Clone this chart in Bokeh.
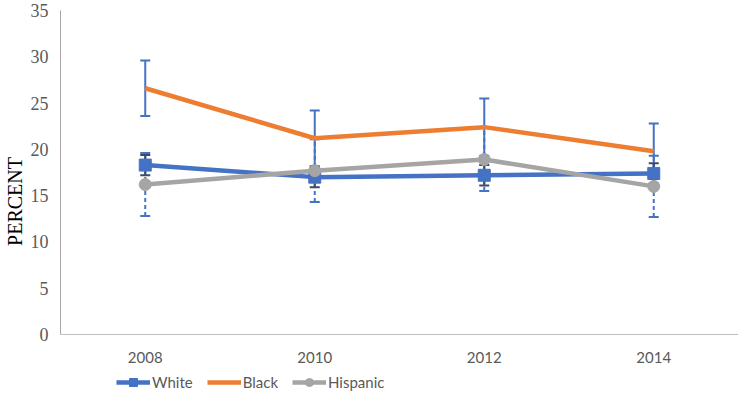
from bokeh.plotting import figure
from bokeh.models import (ColumnDataSource, FactorRange, FixedTicker, Whisker, TeeHead,
                          Legend, LegendItem, Range1d)
from bokeh.embed import file_html
from bokeh.resources import INLINE

years = ["2008", "2010", "2012", "2014"]
white = [18.3, 17.0, 17.2, 17.4]
black = [26.6, 21.2, 22.4, 19.8]
hispanic = [16.2, 17.7, 18.9, 16.0]
white_err = [1.1, 1.1, 1.1, 1.1]
black_err = [3.0, 3.0, 3.1, 3.0]
hispanic_err = [3.4, 3.4, 3.4, 3.3]
y_ticks = [0, 5, 10, 15, 20, 25, 30, 35]

BLUE = "#4472C4"
ORANGE = "#ED7D31"
GRAY = "#A5A5A5"
TXT = "#595959"

# frame extends below the value axis to hold the category labels and the legend
FRAME_H = 382
VAL_H = 324
PX_PER_UNIT = VAL_H / 35
y_lo = -(FRAME_H - VAL_H) / PX_PER_UNIT

p = figure(frame_width=678, frame_height=FRAME_H, x_range=FactorRange(*years, range_padding=0),
           y_range=Range1d(y_lo, 35), output_backend="svg", toolbar_location=None,
           min_border_left=10, min_border_right=2, min_border_top=10, min_border_bottom=0)
p.xgrid.grid_line_color = None
p.ygrid.grid_line_color = None
p.outline_line_color = None

def src(vals, errs):
    return ColumnDataSource(dict(x=years, y=vals,
                                 lo=[v - e for v, e in zip(vals, errs)],
                                 hi=[v + e for v, e in zip(vals, errs)]))

sw, sb, sh = src(white, white_err), src(black, black_err), src(hispanic, hispanic_err)

lw = p.line("x", "y", source=sw, line_color=BLUE, line_width=4.5)
mw = p.scatter("x", "y", source=sw, marker="square", size=12, color=BLUE)
lb = p.line("x", "y", source=sb, line_color=ORANGE, line_width=4.5)
lh = p.line("x", "y", source=sh, line_color=GRAY, line_width=4.5)
mh = p.scatter("x", "y", source=sh, marker="circle", size=12, color=GRAY)

def whisk(s, color, dash):
    w = Whisker(base="x", upper="hi", lower="lo", source=s, dimension="height",
                line_color=color, line_width=2, line_dash=dash,
                upper_head=TeeHead(size=10, line_color=color, line_width=2),
                lower_head=TeeHead(size=10, line_color=color, line_width=2))
    p.add_layout(w)

whisk(sb, BLUE, "solid")
whisk(sh, BLUE, "4 3")
whisk(sw, "#3A4A6B", "solid")

p.yaxis.ticker = FixedTicker(ticks=y_ticks)
p.yaxis.bounds = (0, 35)
p.yaxis.axis_label = "PERCENT"
p.yaxis.axis_label_text_font = "Liberation Serif"
p.yaxis.axis_label_text_font_size = "20px"
p.yaxis.axis_label_text_font_style = "normal"
p.yaxis.axis_label_text_color = "#000000"
p.yaxis.axis_label_standoff = 2
p.yaxis.major_label_text_font = "Liberation Serif"
p.yaxis.major_label_text_font_size = "18px"
p.yaxis.major_label_text_color = TXT
p.yaxis.major_label_standoff = 6
p.yaxis.axis_line_color = "#A6A6A6"
p.yaxis.major_tick_line_color = None
p.yaxis.minor_tick_line_color = None

p.xaxis.fixed_location = 0
p.xaxis.major_label_text_font = "Lato"
p.xaxis.major_label_text_font_size = "15px"
p.xaxis.major_label_text_color = TXT
p.xaxis.major_label_standoff = 11
p.xaxis.axis_line_color = "#BFBFBF"
p.xaxis.major_tick_line_color = None
p.xaxis.minor_tick_line_color = None

legend = Legend(items=[LegendItem(label="White", renderers=[lw, mw]),
                       LegendItem(label="Black", renderers=[lb]),
                       LegendItem(label="Hispanic", renderers=[lh, mh])],
                orientation="horizontal", location=(56, 0),
                label_text_font="Lato", label_text_font_size="15px",
                label_text_color=TXT, glyph_width=34, glyph_height=20,
                label_standoff=2, spacing=14, padding=2, margin=0,
                border_line_color=None, background_fill_alpha=0)
p.add_layout(legend, "center")

open("out.html", "w").write(file_html(p, INLINE))
